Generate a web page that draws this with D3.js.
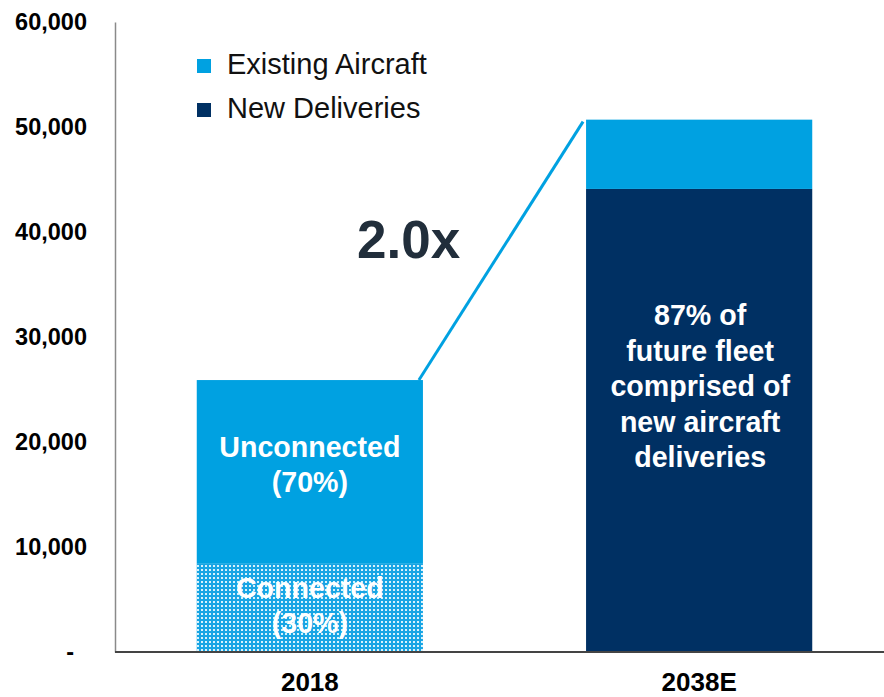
<!DOCTYPE html>
<html>
<head>
<meta charset="utf-8">
<script src="https://cdn.jsdelivr.net/npm/d3@7"></script>
<style>
  html, body { margin: 0; padding: 0; background: #fff; }
  svg { display: block; font-family: Arial, "Liberation Sans", Helvetica, sans-serif; }
</style>
</head>
<body>
<svg id="chart" width="884" height="697"></svg>
<script>
// Fleet size by year, split into stacked segments
const years = ["2018", "2038E"];
const connected2018 = [8400, 0];      // patterned segment (2018 only)
const existingAircraft = [17500, 6600];
const newDeliveries = [0, 44100];
const yTicks = [0, 10000, 20000, 30000, 40000, 50000, 60000];

const legendLabels = ["Existing Aircraft", "New Deliveries"];
const multipleLabel = "2.0x";
const leftBarNotes = [["Unconnected", "(70%)"], ["Connected", "(30%)"]];
const rightBarNote = ["87% of", "future fleet", "comprised of", "new aircraft", "deliveries"];

const LIGHT = "#00A1E1";
const NAVY = "#003063";

const svg = d3.select("#chart");
const W = 884, H = 697;

const x = d3.scaleBand().domain(years).range([115, 894]).paddingInner(0.419).paddingOuter(0.21);
const y = d3.scaleLinear().domain([0, 60000]).range([652, 22]);

// dotted fill for the connected segment
const defs = svg.append("defs");
const pat = defs.append("pattern").attr("id", "dots")
  .attr("patternUnits", "userSpaceOnUse").attr("width", 4).attr("height", 4);
pat.append("rect").attr("width", 4).attr("height", 4).attr("fill", "#18a5e4");
pat.append("rect").attr("x", 1).attr("y", 1).attr("width", 2).attr("height", 2).attr("fill", "#d8f2fc");

// stacked segments
const rows = years.map((yr, i) => ({
  year: yr,
  connected: connected2018[i],
  existing: existingAircraft[i],
  deliveries: newDeliveries[i]
}));
const stack = d3.stack().keys(["connected", "deliveries", "existing"]);
const series = stack(rows);
const fills = { connected: "url(#dots)", deliveries: NAVY, existing: LIGHT };

svg.append("g").selectAll("g").data(series).join("g")
  .attr("fill", s => fills[s.key])
  .selectAll("rect").data(s => s.filter(d => d[1] > d[0])).join("rect")
  .attr("x", d => x(d.data.year))
  .attr("width", x.bandwidth())
  .attr("y", d => y(d[1]))
  .attr("height", d => y(d[0]) - y(d[1]));

// Y axis
const yAxis = svg.append("g").attr("transform", "translate(115,0)")
  .call(d3.axisLeft(y).tickValues(yTicks).tickSize(0).tickPadding(28)
    .tickFormat(v => v === 0 ? "-" : d3.format(",")(v)));
yAxis.select(".domain").attr("stroke", "#8a8a8a").attr("stroke-width", 1.5);
yAxis.selectAll("text")
  .attr("font-size", 23.5).attr("font-weight", "bold").attr("fill", "#000")
  .attr("font-family", "Arial, 'Liberation Sans', sans-serif")
  .attr("dy", "0.32em");
yAxis.selectAll(".tick").filter(d => d === 0).select("text").attr("x", -41);

// X axis
const xAxis = svg.append("g").attr("transform", "translate(0,652)")
  .call(d3.axisBottom(x).tickSize(0).tickPadding(21));
xAxis.select(".domain").remove();
xAxis.append("line").attr("x1", 115).attr("x2", W).attr("y1", 0).attr("y2", 0)
  .attr("stroke", "#444").attr("stroke-width", 2);
xAxis.selectAll("text")
  .attr("font-size", 26).attr("font-weight", "bold").attr("fill", "#000")
  .attr("font-family", "Arial, 'Liberation Sans', sans-serif");

// connector between the bar tops
const tot = rows.map(r => r.connected + r.existing + r.deliveries);
svg.append("line")
  .attr("x1", x(years[0]) + x.bandwidth() - 4).attr("y1", y(tot[0]))
  .attr("x2", x(years[1]) - 3).attr("y2", y(tot[1]) + 2)
  .attr("stroke", LIGHT).attr("stroke-width", 3);

svg.append("text").attr("x", 357).attr("y", 258)
  .attr("font-size", 53).attr("font-weight", "bold").attr("fill", "#212e3b")
  .text(multipleLabel);

// legend
const legend = svg.append("g");
[LIGHT, NAVY].forEach((c, i) => {
  legend.append("rect").attr("x", 197).attr("y", 59 + i * 44).attr("width", 14).attr("height", 14).attr("fill", c);
  legend.append("text").attr("x", 227).attr("y", 74 + i * 44)
    .attr("font-size", 29).attr("fill", "#111").text(legendLabels[i]);
});

// notes inside bars
const cx0 = x(years[0]) + x.bandwidth() / 2;
const cx1 = x(years[1]) + x.bandwidth() / 2;
const noteStyle = sel => sel.attr("text-anchor", "middle").attr("font-size", 28.6)
  .attr("font-weight", "bold").attr("fill", "#fff");

[457, 492].forEach((by, i) => svg.append("text").call(noteStyle)
  .attr("x", cx0).attr("y", by).text(leftBarNotes[0][i]));
[598, 633].forEach((by, i) => svg.append("text").call(noteStyle)
  .attr("x", cx0).attr("y", by).text(leftBarNotes[1][i]));
rightBarNote.forEach((t, i) => svg.append("text").call(noteStyle)
  .attr("x", cx1 + 1).attr("y", 325 + i * 35.5).text(t));
</script>
</body>
</html>
